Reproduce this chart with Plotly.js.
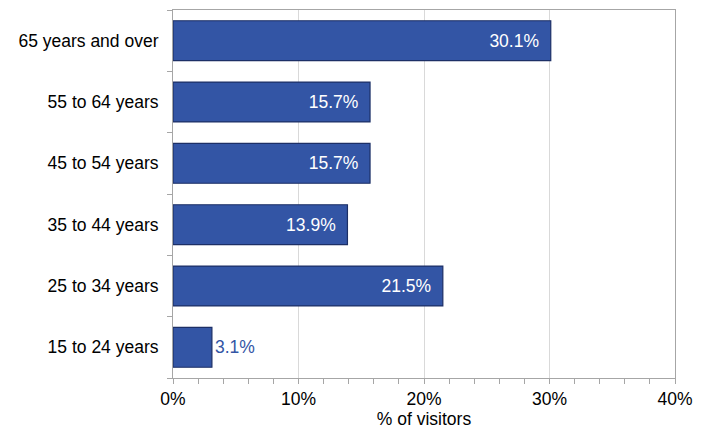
<!DOCTYPE html>
<html><head><meta charset="utf-8">
<script src="https://cdn.plot.ly/plotly-3.0.1.min.js"></script>
<style>body{margin:0;background:#fff}#c{width:707px;height:430px}</style>
</head><body><div id="c"></div>
<script>
const categories = ["15 to 24 years","25 to 34 years","35 to 44 years","45 to 54 years","55 to 64 years","65 years and over"];
const values = [0.031,0.215,0.139,0.157,0.157,0.301];
const labels = ["3.1%","21.5%","13.9%","15.7%","15.7%","30.1%"];
const xTicks = [0,0.1,0.2,0.3,0.4];
const xTickText = ["0%","10%","20%","30%","40%"];

const FONT = 'Liberation Sans, Arial, sans-serif';
const trace = {
  type:'bar', orientation:'h', y:categories, x:values, text:labels,
  texttemplate:'%{text}\u2002',
  textposition: values.map(v => v > 0.08 ? 'inside' : 'outside'),
  insidetextanchor:'end', cliponaxis:false,
  insidetextfont:{color:'#ffffff', size:17.5, family:FONT},
  outsidetextfont:{color:'#3355a5', size:17.5, family:FONT},
  textangle:0,
  marker:{color:'#3355a5', line:{color:'#1c2f66', width:1.2}},
  width:0.65, hoverinfo:'none'
};
const layout = {
  width:707, height:430,
  margin:{l:173, r:32, t:10, b:52},
  paper_bgcolor:'#fff', plot_bgcolor:'#fff',
  font:{family:FONT, size:17.5, color:'#000'},
  showlegend:false,
  xaxis:{range:[0,0.4], tickvals:xTicks, ticktext:xTickText,
    showgrid:true, gridcolor:'#d9d9d9', gridwidth:1,
    showline:true, linecolor:'#a6a6a6', linewidth:1, mirror:true,
    ticks:'outside', ticklen:5, tickcolor:'#a6a6a6',
    minor:{dtick:0.02, ticks:'outside', ticklen:5, tickcolor:'#a6a6a6', showgrid:false},
    zeroline:false,
    title:{text:'% of visitors', font:{size:17.5}, standoff:2},
    tickfont:{size:17.5}},
  yaxis:{type:'category', categoryorder:'array', categoryarray:categories,
    showline:true, linecolor:'#a6a6a6', linewidth:1, mirror:true,
    ticks:'outside', ticklen:5, tickcolor:'#a6a6a6', tickson:'boundaries',
    ticklabelstandoff:10,
    showgrid:false, tickfont:{size:17.5}},
  bargap:0.35
};
Plotly.newPlot('c',[trace],layout,{staticPlot:true});
</script></body></html>
